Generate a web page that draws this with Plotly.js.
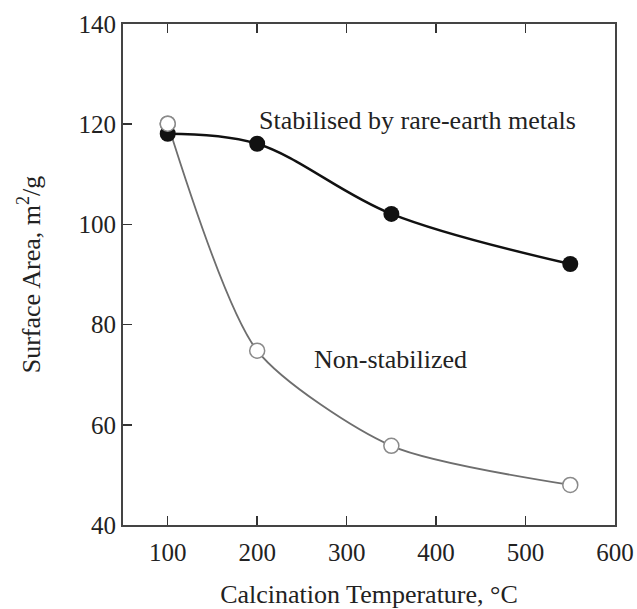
<!DOCTYPE html>
<html>
<head>
<meta charset="utf-8">
<script src="https://cdn.plot.ly/plotly-3.0.1.min.js"></script>
<style>html,body{margin:0;padding:0;background:#fff;}#chart{width:637px;height:609px;}</style>
</head>
<body>
<div id="chart"></div>
<script>
const temps = [100, 200, 350, 550];
const stabilised = [118.1, 116.1, 102.1, 92.1];
const nonStabilised = [120.1, 74.8, 55.8, 48.0];
const xTicks = [100, 200, 300, 400, 500, 600];
const yTicks = [40, 60, 80, 100, 120, 140];
const labelStab = "Stabilised by rare-earth metals";
const labelNon = "Non-stabilized";

const serif = "Liberation Serif, Times New Roman, serif";
const txt = "#222222";

const traces = [
  {
    x: temps, y: nonStabilised, type: "scatter", mode: "lines+markers",
    line: {shape: "spline", smoothing: 0.7, color: "#6e6e6e", width: 1.8},
    marker: {symbol: "circle", size: 15, color: "#ffffff", line: {color: "#8a8a8a", width: 1.5}},
    showlegend: false, cliponaxis: false
  },
  {
    x: temps, y: stabilised, type: "scatter", mode: "lines+markers",
    line: {shape: "spline", smoothing: 1, color: "#111111", width: 2.4},
    marker: {symbol: "circle", size: 16, color: "#111111"},
    showlegend: false, cliponaxis: false
  },
  {
    x: [temps[0]], y: [nonStabilised[0]], type: "scatter", mode: "markers",
    marker: {symbol: "circle", size: 15, color: "#ffffff", line: {color: "#8a8a8a", width: 1.5}},
    showlegend: false, cliponaxis: false
  }
];

const layout = {
  width: 637, height: 609,
  margin: {l: 123, r: 22, t: 24, b: 84},
  paper_bgcolor: "#ffffff", plot_bgcolor: "#ffffff",
  font: {family: serif, size: 25, color: txt},
  xaxis: {
    range: [50, 600], tickvals: xTicks, ticktext: xTicks.map(String),
    ticks: "inside", ticklen: 9, tickwidth: 1.5, tickcolor: "#333",
    showline: true, linecolor: "#444", linewidth: 2, mirror: "ticks",
    showgrid: false, zeroline: false, ticklabelstandoff: 4,
    tickfont: {family: serif, size: 25, color: txt},
    title: {text: "Calcination Temperature, °C", font: {family: serif, size: 26, color: txt}, standoff: 20}
  },
  yaxis: {
    range: [40, 140], tickvals: yTicks, ticktext: yTicks.map(String),
    ticks: "inside", ticklen: 9, tickwidth: 1.5, tickcolor: "#333",
    showline: true, linecolor: "#444", linewidth: 2, mirror: true,
    showgrid: false, zeroline: false,
    tickfont: {family: serif, size: 25, color: txt},
    title: {text: "Surface Area, m<sup>2</sup>/g", font: {family: serif, size: 26, color: txt}, standoff: 30}
  },
  annotations: [
    {x: 0.272, y: 0.808, xref: "paper", yref: "paper", xanchor: "left", yanchor: "middle",
     text: labelStab, showarrow: false, font: {family: serif, size: 26, color: txt}},
    {x: 0.384, y: 0.331, xref: "paper", yref: "paper", xanchor: "left", yanchor: "middle",
     text: labelNon, showarrow: false, font: {family: serif, size: 26, color: txt}}
  ]
};

Plotly.newPlot("chart", traces, layout, {displayModeBar: false, staticPlot: true});
</script>
</body>
</html>
